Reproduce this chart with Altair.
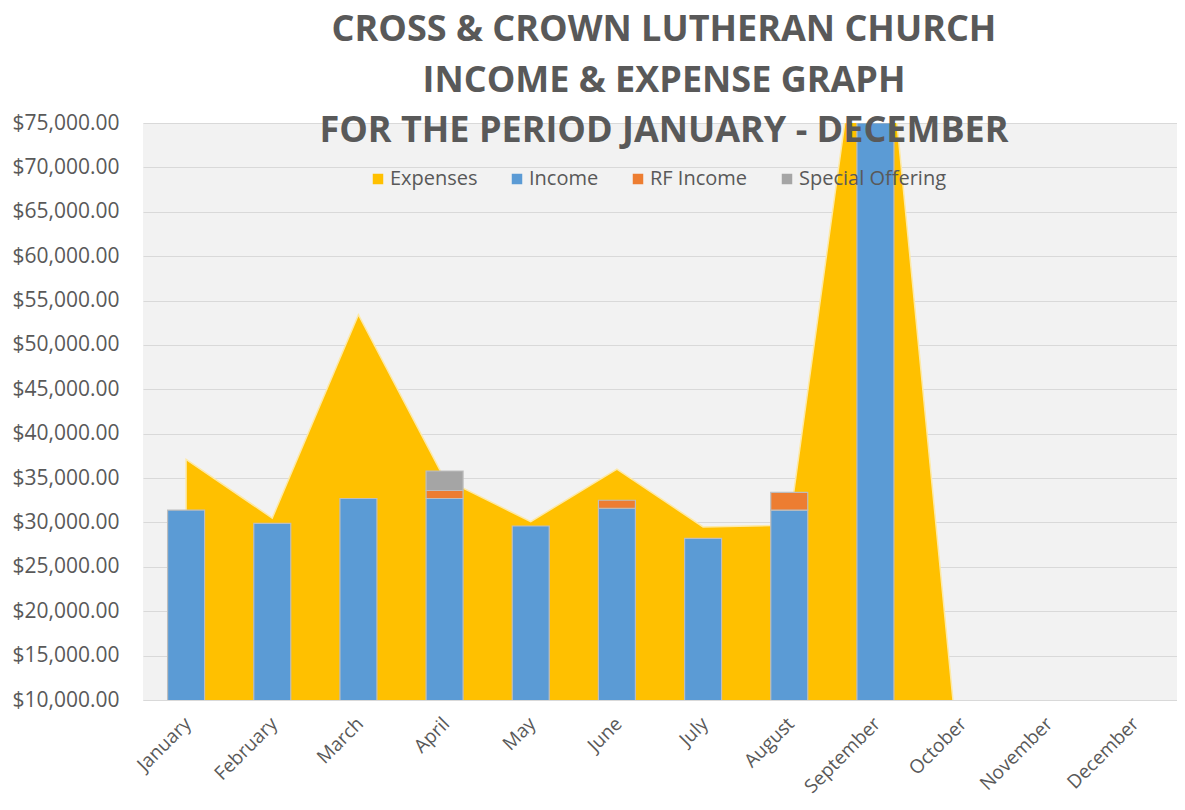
import altair as alt
import pandas as pd

months = ["January", "February", "March", "April", "May", "June", "July",
          "August", "September", "October", "November", "December"]
expenses = [37100, 30500, 53400, 34900, 30100, 36000, 29500, 29700, 100000, 0, 0, 0]
income = [31400, 29900, 32700, 32700, 29600, 31600, 28200, 31400, 75000, None, None, None]
rf_income = [0, 0, 0, 900, 0, 900, 0, 2000, 0, None, None, None]
special_offering = [0, 0, 0, 2200, 0, 0, 0, 0, 0, None, None, None]
y_ticks = [10000, 15000, 20000, 25000, 30000, 35000, 40000, 45000, 50000,
           55000, 60000, 65000, 70000, 75000]
title_lines = ["CROSS & CROWN LUTHERAN CHURCH", "INCOME & EXPENSE GRAPH",
               "FOR THE PERIOD JANUARY - DECEMBER"]

series_names = ["Expenses", "Income", "RF Income", "Special Offering"]
series_colors = ["#ffc000", "#5b9bd5", "#ed7d31", "#a5a5a5"]

area_df = pd.DataFrame({"month": months, "value": expenses, "series": "Expenses"})

rows = []
for m, inc, rf, sp in zip(months, income, rf_income, special_offering):
    if inc is None:
        continue
    rows.append({"month": m, "value": inc, "series": "Income", "ord": 0})
    if rf:
        rows.append({"month": m, "value": rf, "series": "RF Income", "ord": 1})
    if sp:
        rows.append({"month": m, "value": sp, "series": "Special Offering", "ord": 2})
bar_df = pd.DataFrame(rows)

FONT = "Open Sans"
TXT = "#595959"

x_enc = alt.X("month:N", sort=months, title=None,
              scale=alt.Scale(type="point", padding=0.5),
              axis=alt.Axis(labelAngle=-45, labelFontSize=19, labelFont=FONT,
                            labelColor=TXT, ticks=False, domainColor="#d9d9d9",
                            labelPadding=14, labelOffset=-5, grid=False))
y_scale = alt.Scale(domain=[10000, 75000], nice=False, zero=False)
y_axis = alt.Axis(values=y_ticks, format="$,.2f", labelFontSize=21, labelFont=FONT,
                  labelColor=TXT, ticks=False, domain=False, gridColor="#d9d9d9",
                  labelPadding=24, title=None)
color_enc = alt.Color("series:N",
                      scale=alt.Scale(domain=series_names, range=series_colors),
                      legend=alt.Legend(title=None, orient="none", direction="horizontal",
                                        legendX=225, legendY=46, symbolType="square",
                                        symbolSize=110, symbolStrokeWidth=0,
                                        labelFontSize=20, labelFont=FONT, labelColor=TXT,
                                        columnPadding=29, labelOffset=2))

area = alt.Chart(area_df).mark_area(
    clip=True, stroke="#fde9a6", strokeWidth=1.5, opacity=1
).encode(
    x=x_enc,
    y=alt.Y("value:Q", scale=y_scale, axis=y_axis),
    color=color_enc,
)

bars = alt.Chart(bar_df).mark_bar(
    size=37, clip=True, stroke="#bdbdbd", strokeWidth=1.2
).encode(
    x=x_enc,
    y=alt.Y("value:Q", stack="zero", scale=y_scale, axis=y_axis),
    color=color_enc,
    order=alt.Order("ord:Q"),
)

title = alt.Chart(alt.Data(values=[{}])).mark_text(
    text=title_lines, lineHeight=50.5, fontSize=36, font=FONT, fontWeight="bold",
    color=TXT, align="center", baseline="alphabetic"
).encode(x=alt.value(521), y=alt.value(-82))

chart = alt.layer(area, bars, title).properties(
    width=1034, height=577,
    autosize=alt.AutoSizeParams(type="none"),
    padding={"left": 135, "top": 115, "right": 0, "bottom": 100},
    background="white",
).configure_view(fill="#f2f2f2", stroke=None)

chart.save("out.html", embed_options={"renderer": "svg", "actions": False})
